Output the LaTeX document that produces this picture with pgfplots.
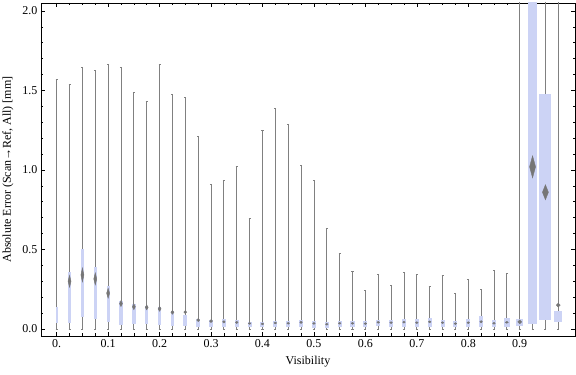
\documentclass[border=0pt]{standalone}
\usepackage{pgfplots}
\pgfplotsset{compat=1.18}
\usepgfplotslibrary{statistics}
\usepackage{fontspec}
\setmainfont{Liberation Serif}
\definecolor{boxblue}{RGB}{204,211,245}
\definecolor{wgray}{RGB}{128,128,128}
\definecolor{mgray}{RGB}{118,118,118}
% box: draw position, lower quartile, upper quartile, upper whisker, box extend
\newcommand\bw[5]{\addplot[boxplot prepared={draw position=#1, lower whisker=0, lower quartile=#2, median=#2, upper quartile=#3, upper whisker=#4, box extend=#5, whisker extend=0.004}] coordinates {};}
% mean diamond: x, y, half height (bp), half width (bp)
\newcommand\mk[4]{\addplot[only marks, mark=diamond*, color=mgray, mark size=#3bp, mark options={xscale=#4/(0.75*#3), draw=none, fill=mgray}] coordinates {(#1,#2)};}
\begin{document}
\begin{tikzpicture}
\useasboundingbox (-41bp,-39bp) rectangle (535bp,336bp);
\begin{axis}[
  at={(0,0)}, anchor=south west, scale only axis,
  width=534bp, height=333bp,
  xmin=-0.0305, xmax=1.0075, ymin=-0.044, ymax=2.05,
  font=\fontsize{12bp}{14bp}\selectfont,
  xtick={0,0.1,0.2,0.3,0.4,0.5,0.6,0.7,0.8,0.9},
  xticklabels={0.,0.1,0.2,0.3,0.4,0.5,0.6,0.7,0.8,0.9},
  ytick={0,0.5,1,1.5,2},
  yticklabels={0.0,0.5,1.0,1.5,2.0},
  minor x tick num=3, minor y tick num=4,
  tick align=inside, major tick length=4bp, minor tick length=2.5bp,
  tick style={black, line width=0.6bp},
  axis line style={black, line width=0.7bp},
  xlabel={Visibility},
  ylabel={Absolute Error (Scan→Ref, All) [mm]},
  xlabel style={at={(axis description cs:0.5,-0.078)}, anchor=center},
  ylabel style={at={(axis description cs:-0.062,0.5)}, anchor=center},
  boxplot/draw direction=y,
  boxplot/every box/.style={fill=boxblue, draw=none},
  boxplot/every whisker/.style={draw=wgray, line width=0.8bp},
  boxplot/every median/.style={draw=none},
]
\bw{0.000}{0.036}{0.140}{1.570}{0.0039}
\bw{0.025}{0.040}{0.357}{1.535}{0.0058}
\bw{0.050}{0.074}{0.503}{1.645}{0.0058}
\bw{0.075}{0.061}{0.390}{1.625}{0.0058}
\bw{0.100}{0.044}{0.270}{1.665}{0.0058}
\bw{0.125}{0.027}{0.176}{1.645}{0.0078}
\bw{0.150}{0.033}{0.157}{1.490}{0.0078}
\bw{0.175}{0.033}{0.146}{1.430}{0.0058}
\bw{0.200}{0.027}{0.140}{1.665}{0.0058}
\bw{0.225}{0.021}{0.111}{1.475}{0.0058}
\bw{0.250}{0.021}{0.088}{1.455}{0.0078}
\bw{0.275}{0.015}{0.063}{1.210}{0.0078}
\bw{0.300}{0.015}{0.056}{0.910}{0.0078}
\bw{0.325}{0.010}{0.061}{0.935}{0.0078}
\bw{0.350}{0.010}{0.057}{1.020}{0.0078}
\bw{0.375}{0.010}{0.046}{0.695}{0.0078}
\bw{0.400}{0.010}{0.042}{1.250}{0.0078}
\bw{0.425}{0.010}{0.050}{1.385}{0.0078}
\bw{0.450}{0.010}{0.048}{1.285}{0.0078}
\bw{0.475}{0.010}{0.057}{1.030}{0.0078}
\bw{0.500}{0.004}{0.052}{0.935}{0.0078}
\bw{0.525}{0.004}{0.046}{0.635}{0.0078}
\bw{0.550}{0.010}{0.052}{0.475}{0.0078}
\bw{0.575}{0.010}{0.052}{0.360}{0.0078}
\bw{0.600}{0.010}{0.050}{0.245}{0.0078}
\bw{0.625}{0.019}{0.057}{0.345}{0.0078}
\bw{0.650}{0.012}{0.057}{0.275}{0.0078}
\bw{0.675}{0.010}{0.063}{0.355}{0.0078}
\bw{0.700}{0.010}{0.061}{0.345}{0.0078}
\bw{0.725}{0.015}{0.069}{0.265}{0.0078}
\bw{0.750}{0.015}{0.057}{0.340}{0.0078}
\bw{0.775}{0.010}{0.050}{0.225}{0.0078}
\bw{0.800}{0.010}{0.063}{0.315}{0.0078}
\bw{0.825}{0.013}{0.082}{0.250}{0.0078}
\bw{0.850}{0.010}{0.057}{0.370}{0.0078}
\bw{0.875}{0.013}{0.067}{0.350}{0.0117}
\bw{0.900}{0.019}{0.063}{3.000}{0.0136}
\bw{0.925}{0.031}{3.000}{3.000}{0.0175}
\bw{0.950}{0.057}{1.476}{3.000}{0.0233}
\bw{0.975}{0.046}{0.113}{3.000}{0.0155}
% mean markers
\mk{0.025}{0.300}{6}{1.5}
\mk{0.050}{0.340}{7}{1.5}
\mk{0.075}{0.315}{6}{1.5}
\mk{0.100}{0.225}{5}{1.5}
\mk{0.125}{0.160}{3}{1.5}
\mk{0.150}{0.140}{3}{1.5}
\mk{0.175}{0.136}{2.5}{1.5}
\mk{0.200}{0.127}{2.5}{1.5}
\mk{0.225}{0.105}{2}{1.5}
\mk{0.250}{0.106}{1.5}{1.5}
\mk{0.275}{0.056}{1.5}{1.5}
\mk{0.300}{0.050}{1.5}{1.5}
\mk{0.325}{0.045}{1.2}{1.3}
\mk{0.350}{0.042}{1.2}{1.3}
\mk{0.375}{0.035}{1}{1.3}
\mk{0.400}{0.032}{1}{1.3}
\mk{0.425}{0.038}{1}{1.3}
\mk{0.450}{0.036}{1}{1.3}
\mk{0.475}{0.042}{1.2}{1.3}
\mk{0.500}{0.035}{1}{1.3}
\mk{0.525}{0.030}{1}{1.3}
\mk{0.550}{0.036}{1}{1.3}
\mk{0.575}{0.036}{1}{1.3}
\mk{0.600}{0.034}{1}{1.3}
\mk{0.625}{0.042}{1}{1.3}
\mk{0.650}{0.040}{1}{1.3}
\mk{0.675}{0.043}{1}{1.3}
\mk{0.700}{0.040}{1}{1.3}
\mk{0.725}{0.045}{1}{1.3}
\mk{0.750}{0.040}{1}{1.3}
\mk{0.775}{0.034}{1}{1.3}
\mk{0.800}{0.040}{1}{1.3}
\mk{0.825}{0.046}{1.2}{1.3}
\mk{0.850}{0.036}{1}{1.3}
\mk{0.875}{0.042}{1}{1.5}
\mk{0.900}{0.045}{2}{2}
\mk{0.925}{1.020}{11}{3}
\mk{0.950}{0.860}{7.5}{3}
\mk{0.975}{0.150}{2}{2}
\end{axis}
\end{tikzpicture}
\end{document}
